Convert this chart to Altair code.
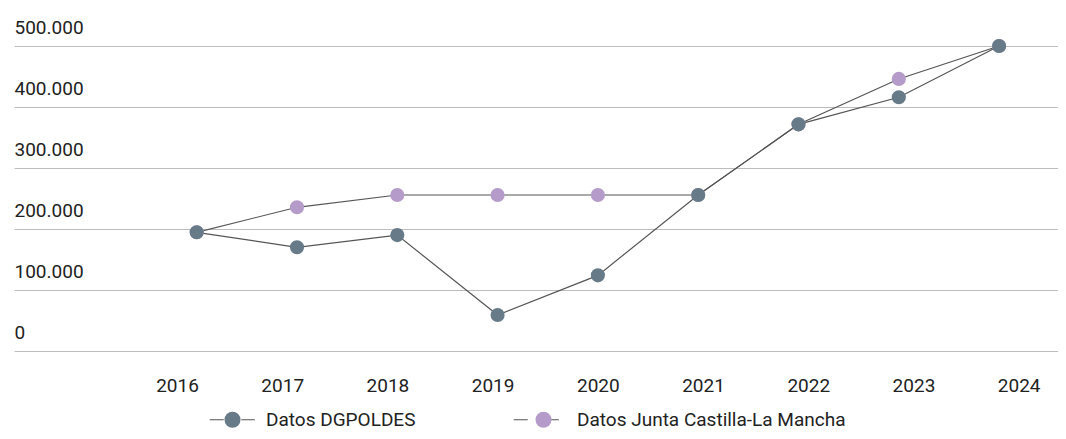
import altair as alt
import pandas as pd

years = [2016, 2017, 2018, 2019, 2020, 2021, 2022, 2023, 2024]
series_names = ["Datos DGPOLDES", "Datos Junta Castilla-La Mancha"]
dgpoldes = [194600, 170000, 190000, 59000, 124000, 255700, 371600, 416000, 500000]
junta = [194600, 235600, 255700, 255700, 255700, 255700, 371600, 446000, 500000]
y_ticks = [0, 100000, 200000, 300000, 400000, 500000]
colors = ["#677a88", "#b59bc9"]
line_colors = ["#555555", "#555555"]

rows = []
for y, v in zip(years, junta):
    rows.append({"year": y, "value": v, "series": series_names[1]})
for y, v in zip(years, dgpoldes):
    rows.append({"year": y, "value": v, "series": series_names[0]})
df = pd.DataFrame(rows)
# separate key for the connecting-line part of the legend symbol
line_names = [s + "\u200b" for s in series_names]
df["serie_linea"] = df["series"] + "\u200b"
labels_df = pd.DataFrame({"year": years, "label": [str(y) for y in years]})

FONT = "Roboto"
x_pts = alt.Scale(domain=[2014.1785, 2024.5873], nice=False, zero=False)
x_lbl = alt.Scale(domain=[2014.446, 2024.369], nice=False, zero=False)
y_sc = alt.Scale(domain=[0, 500000], nice=False, zero=True)

line_sym = "M-2.85,0H-1.1M1.1,0H2.8"
legend_common = dict(orient="none", legendX=209, legendY=364, direction="horizontal",
                     title=None, symbolSize=256, labelFontSize=19, labelFont=FONT,
                     labelOffset=24, labelLimit=0, padding=0)

base = alt.Chart(df)

lines = base.mark_line(strokeWidth=1.2).encode(
    x=alt.X("year:Q", scale=x_pts, axis=None),
    y=alt.Y("value:Q", scale=y_sc, axis=alt.Axis(
        values=y_ticks, title=None, grid=True, gridColor="#bdbdbd", gridWidth=1,
        domain=False, ticks=False, tickSize=0, labelPadding=0, labelAlign="left",
        labelBaseline="alphabetic", labelOffset=-13, labelFontSize=19, labelFont=FONT,
        labelColor="#222222", labelFlush=False, labelOverlap=False,
        labelExpr="replace(format(datum.value, ','), regexp(',', 'g'), '.')")),
    stroke=alt.Stroke("serie_linea:N", scale=alt.Scale(domain=line_names, range=line_colors),
                      legend=alt.Legend(symbolType=line_sym, symbolStrokeWidth=1.2,
                                        symbolStrokeColor="#555555", labelExpr="''",
                                        columnPadding=245, **legend_common)),
)

points = base.mark_circle(size=200, opacity=1).encode(
    x=alt.X("year:Q", scale=x_pts, axis=None),
    y=alt.Y("value:Q", scale=y_sc),
    color=alt.Color("series:N", scale=alt.Scale(domain=series_names, range=colors),
                    legend=alt.Legend(symbolType="circle", symbolOpacity=1,
                                      labelColor="#222222", columnPadding=118,
                                      **legend_common)),
)

xlabels = alt.Chart(labels_df).mark_text(
    font=FONT, fontSize=19, color="#222222", baseline="alphabetic", align="center"
).encode(
    x=alt.X("year:Q", scale=x_lbl, axis=None),
    y=alt.value(346),
    text="label:N",
)

chart = alt.layer(lines, points, xlabels).resolve_scale(x="independent").properties(
    width=1044, height=305,
    autosize=alt.AutoSizeParams(type="none"),
    padding={"left": 6, "top": 38, "right": 0, "bottom": 80},
).configure_view(stroke=None)

chart.save("out.html", embed_options={"renderer": "svg", "actions": False})
